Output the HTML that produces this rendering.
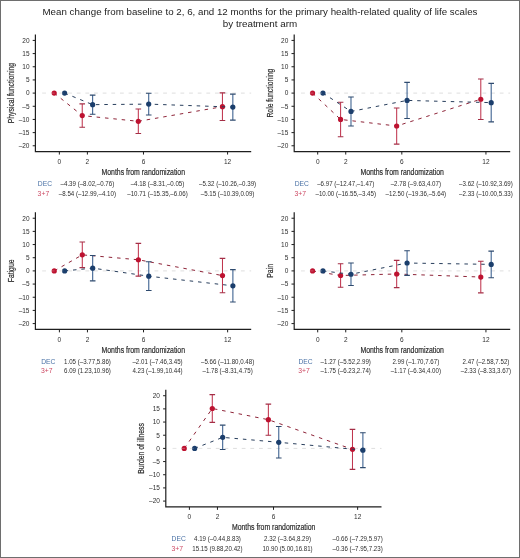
<!DOCTYPE html>
<html><head><meta charset="utf-8"><style>
html,body{margin:0;padding:0;background:#fff;}
svg{display:block;font-family:"Liberation Sans",sans-serif;will-change:transform;}
</style></head><body>
<svg width="520" height="558" viewBox="0 0 520 558">
<rect x="0" y="0" width="520" height="558" fill="#fff"/>
<rect x="0.5" y="0.5" width="519" height="557" fill="none" stroke="#6e6e6e" stroke-width="1"/>
<text x="260" y="15.2" text-anchor="middle" font-size="9.3" fill="#222" textLength="435" lengthAdjust="spacingAndGlyphs">Mean change from baseline to 2, 6, and 12 months for the primary health-related quality of life scales</text>
<text x="260" y="26.7" text-anchor="middle" font-size="9.3" fill="#222" textLength="74.4" lengthAdjust="spacingAndGlyphs">by treatment arm</text>
<g><line x1="42.20" y1="93.10" x2="251.20" y2="93.10" stroke="#dedede" stroke-width="1" stroke-dasharray="3.8 4.84"/>
<path d="M35.40 34.50 V151.55 H251.20" fill="none" stroke="#1e1e1e" stroke-width="1.2"/>
<line x1="32.70" y1="40.42" x2="35.40" y2="40.42" stroke="#1e1e1e" stroke-width="1"/>
<text x="29.50" y="42.72" text-anchor="end" font-size="6.50" fill="#2e2e2e">20</text>
<line x1="32.70" y1="53.59" x2="35.40" y2="53.59" stroke="#1e1e1e" stroke-width="1"/>
<text x="29.50" y="55.89" text-anchor="end" font-size="6.50" fill="#2e2e2e">15</text>
<line x1="32.70" y1="66.76" x2="35.40" y2="66.76" stroke="#1e1e1e" stroke-width="1"/>
<text x="29.50" y="69.06" text-anchor="end" font-size="6.50" fill="#2e2e2e">10</text>
<line x1="32.70" y1="79.93" x2="35.40" y2="79.93" stroke="#1e1e1e" stroke-width="1"/>
<text x="29.50" y="82.23" text-anchor="end" font-size="6.50" fill="#2e2e2e">5</text>
<line x1="32.70" y1="93.10" x2="35.40" y2="93.10" stroke="#1e1e1e" stroke-width="1"/>
<text x="29.50" y="95.40" text-anchor="end" font-size="6.50" fill="#2e2e2e">0</text>
<line x1="32.70" y1="106.27" x2="35.40" y2="106.27" stroke="#1e1e1e" stroke-width="1"/>
<text x="29.50" y="108.57" text-anchor="end" font-size="6.50" fill="#2e2e2e">–5</text>
<line x1="32.70" y1="119.44" x2="35.40" y2="119.44" stroke="#1e1e1e" stroke-width="1"/>
<text x="29.50" y="121.74" text-anchor="end" font-size="6.50" fill="#2e2e2e">–10</text>
<line x1="32.70" y1="132.61" x2="35.40" y2="132.61" stroke="#1e1e1e" stroke-width="1"/>
<text x="29.50" y="134.91" text-anchor="end" font-size="6.50" fill="#2e2e2e">–15</text>
<line x1="32.70" y1="145.78" x2="35.40" y2="145.78" stroke="#1e1e1e" stroke-width="1"/>
<text x="29.50" y="148.08" text-anchor="end" font-size="6.50" fill="#2e2e2e">–20</text>
<line x1="59.35" y1="151.55" x2="59.35" y2="154.55" stroke="#1e1e1e" stroke-width="1"/>
<text x="59.35" y="163.95" text-anchor="middle" font-size="6.50" fill="#2e2e2e">0</text>
<line x1="87.39" y1="151.55" x2="87.39" y2="154.55" stroke="#1e1e1e" stroke-width="1"/>
<text x="87.39" y="163.95" text-anchor="middle" font-size="6.50" fill="#2e2e2e">2</text>
<line x1="143.47" y1="151.55" x2="143.47" y2="154.55" stroke="#1e1e1e" stroke-width="1"/>
<text x="143.47" y="163.95" text-anchor="middle" font-size="6.50" fill="#2e2e2e">6</text>
<line x1="227.59" y1="151.55" x2="227.59" y2="154.55" stroke="#1e1e1e" stroke-width="1"/>
<text x="227.59" y="163.95" text-anchor="middle" font-size="6.50" fill="#2e2e2e">12</text>
<text class="b" x="143.30" y="175.05" text-anchor="middle" font-size="8.40" fill="#2e2e2e" stroke="#2e2e2e" stroke-width="0.20" textLength="83.5" lengthAdjust="spacingAndGlyphs">Months from randomization</text>
<text class="b" transform="translate(13.90 93.10) rotate(-90)" x="0" y="0" text-anchor="middle" font-size="8.40" fill="#2e2e2e" stroke="#2e2e2e" stroke-width="0.20" textLength="60.5" lengthAdjust="spacingAndGlyphs">Physical functioning</text>
<path d="M54.20 93.10 L82.24 115.59 L138.32 121.31 L222.44 106.67" fill="none" stroke="#8e2438" stroke-width="1.0" stroke-dasharray="3.5 4.9"/>
<path d="M82.24 127.32 V103.90" fill="none" stroke="#c0364f" stroke-width="1.05"/>
<path d="M79.44 127.32 H85.04 M79.44 103.90 H85.04" fill="none" stroke="#a42e46" stroke-width="1.1"/>
<path d="M138.32 133.53 V109.06" fill="none" stroke="#c0364f" stroke-width="1.05"/>
<path d="M135.52 133.53 H141.12 M135.52 109.06 H141.12" fill="none" stroke="#a42e46" stroke-width="1.1"/>
<path d="M222.44 120.47 V92.86" fill="none" stroke="#c0364f" stroke-width="1.05"/>
<path d="M219.64 120.47 H225.24 M219.64 92.86 H225.24" fill="none" stroke="#a42e46" stroke-width="1.1"/>
<circle cx="54.20" cy="93.10" r="2.6" fill="#bd1230"/>
<circle cx="82.24" cy="115.59" r="2.6" fill="#bd1230"/>
<circle cx="138.32" cy="121.31" r="2.6" fill="#bd1230"/>
<circle cx="222.44" cy="106.67" r="2.6" fill="#bd1230"/>
<path d="M64.60 93.10 L92.64 104.66 L148.72 104.11 L232.84 107.11" fill="none" stroke="#283e5c" stroke-width="1.0" stroke-dasharray="3.5 4.9"/>
<path d="M92.64 114.22 V95.10" fill="none" stroke="#365c8c" stroke-width="1.05"/>
<path d="M89.84 114.22 H95.44 M89.84 95.10 H95.44" fill="none" stroke="#2e4a6e" stroke-width="1.1"/>
<path d="M148.72 114.99 V93.23" fill="none" stroke="#365c8c" stroke-width="1.05"/>
<path d="M145.92 114.99 H151.52 M145.92 93.23 H151.52" fill="none" stroke="#2e4a6e" stroke-width="1.1"/>
<path d="M232.84 120.12 V94.13" fill="none" stroke="#365c8c" stroke-width="1.05"/>
<path d="M230.04 120.12 H235.64 M230.04 94.13 H235.64" fill="none" stroke="#2e4a6e" stroke-width="1.1"/>
<circle cx="64.60" cy="93.10" r="2.6" fill="#1b3e6c"/>
<circle cx="92.64" cy="104.66" r="2.6" fill="#1b3e6c"/>
<circle cx="148.72" cy="104.11" r="2.6" fill="#1b3e6c"/>
<circle cx="232.84" cy="107.11" r="2.6" fill="#1b3e6c"/>
<line x1="42.20" y1="93.10" x2="73.37" y2="93.10" stroke="#ffffff" stroke-opacity="0.25" stroke-width="1" stroke-dasharray="3.8 4.84"/>
<text x="37.80" y="185.85" font-size="6.50" fill="#4a72a6" textLength="14.2" lengthAdjust="spacingAndGlyphs">DEC</text>
<text x="37.60" y="195.65" font-size="6.50" fill="#cc4862" textLength="11.6" lengthAdjust="spacingAndGlyphs">3+7</text>
<text x="87.39" y="185.85" text-anchor="middle" font-size="6.50" fill="#2e2e2e" textLength="53.68" lengthAdjust="spacingAndGlyphs">–4.39 (–8.02,–0.76)</text>
<text x="157.49" y="185.85" text-anchor="middle" font-size="6.50" fill="#2e2e2e" textLength="53.68" lengthAdjust="spacingAndGlyphs">–4.18 (–8.31,–0.05)</text>
<text x="227.59" y="185.85" text-anchor="middle" font-size="6.50" fill="#2e2e2e" textLength="57.10" lengthAdjust="spacingAndGlyphs">–5.32 (–10.26,–0.39)</text>
<text x="87.39" y="195.65" text-anchor="middle" font-size="6.50" fill="#2e2e2e" textLength="57.10" lengthAdjust="spacingAndGlyphs">–8.54 (–12.99,–4.10)</text>
<text x="157.49" y="195.65" text-anchor="middle" font-size="6.50" fill="#2e2e2e" textLength="60.52" lengthAdjust="spacingAndGlyphs">–10.71 (–15.35,–6.06)</text>
<text x="227.59" y="195.65" text-anchor="middle" font-size="6.50" fill="#2e2e2e" textLength="53.68" lengthAdjust="spacingAndGlyphs">–5.15 (–10.39,0.09)</text></g>
<g><line x1="301.00" y1="93.10" x2="510.20" y2="93.10" stroke="#dedede" stroke-width="1" stroke-dasharray="3.8 4.84"/>
<path d="M294.20 34.50 V151.55 H510.20" fill="none" stroke="#1e1e1e" stroke-width="1.2"/>
<line x1="291.50" y1="40.42" x2="294.20" y2="40.42" stroke="#1e1e1e" stroke-width="1"/>
<text x="288.30" y="42.72" text-anchor="end" font-size="6.50" fill="#2e2e2e">20</text>
<line x1="291.50" y1="53.59" x2="294.20" y2="53.59" stroke="#1e1e1e" stroke-width="1"/>
<text x="288.30" y="55.89" text-anchor="end" font-size="6.50" fill="#2e2e2e">15</text>
<line x1="291.50" y1="66.76" x2="294.20" y2="66.76" stroke="#1e1e1e" stroke-width="1"/>
<text x="288.30" y="69.06" text-anchor="end" font-size="6.50" fill="#2e2e2e">10</text>
<line x1="291.50" y1="79.93" x2="294.20" y2="79.93" stroke="#1e1e1e" stroke-width="1"/>
<text x="288.30" y="82.23" text-anchor="end" font-size="6.50" fill="#2e2e2e">5</text>
<line x1="291.50" y1="93.10" x2="294.20" y2="93.10" stroke="#1e1e1e" stroke-width="1"/>
<text x="288.30" y="95.40" text-anchor="end" font-size="6.50" fill="#2e2e2e">0</text>
<line x1="291.50" y1="106.27" x2="294.20" y2="106.27" stroke="#1e1e1e" stroke-width="1"/>
<text x="288.30" y="108.57" text-anchor="end" font-size="6.50" fill="#2e2e2e">–5</text>
<line x1="291.50" y1="119.44" x2="294.20" y2="119.44" stroke="#1e1e1e" stroke-width="1"/>
<text x="288.30" y="121.74" text-anchor="end" font-size="6.50" fill="#2e2e2e">–10</text>
<line x1="291.50" y1="132.61" x2="294.20" y2="132.61" stroke="#1e1e1e" stroke-width="1"/>
<text x="288.30" y="134.91" text-anchor="end" font-size="6.50" fill="#2e2e2e">–15</text>
<line x1="291.50" y1="145.78" x2="294.20" y2="145.78" stroke="#1e1e1e" stroke-width="1"/>
<text x="288.30" y="148.08" text-anchor="end" font-size="6.50" fill="#2e2e2e">–20</text>
<line x1="317.70" y1="151.55" x2="317.70" y2="154.55" stroke="#1e1e1e" stroke-width="1"/>
<text x="317.70" y="163.95" text-anchor="middle" font-size="6.50" fill="#2e2e2e">0</text>
<line x1="345.74" y1="151.55" x2="345.74" y2="154.55" stroke="#1e1e1e" stroke-width="1"/>
<text x="345.74" y="163.95" text-anchor="middle" font-size="6.50" fill="#2e2e2e">2</text>
<line x1="401.82" y1="151.55" x2="401.82" y2="154.55" stroke="#1e1e1e" stroke-width="1"/>
<text x="401.82" y="163.95" text-anchor="middle" font-size="6.50" fill="#2e2e2e">6</text>
<line x1="485.94" y1="151.55" x2="485.94" y2="154.55" stroke="#1e1e1e" stroke-width="1"/>
<text x="485.94" y="163.95" text-anchor="middle" font-size="6.50" fill="#2e2e2e">12</text>
<text class="b" x="402.20" y="175.05" text-anchor="middle" font-size="8.40" fill="#2e2e2e" stroke="#2e2e2e" stroke-width="0.20" textLength="83.5" lengthAdjust="spacingAndGlyphs">Months from randomization</text>
<text class="b" transform="translate(272.70 93.10) rotate(-90)" x="0" y="0" text-anchor="middle" font-size="8.40" fill="#2e2e2e" stroke="#2e2e2e" stroke-width="0.20" textLength="49.0" lengthAdjust="spacingAndGlyphs">Role functioning</text>
<path d="M312.55 93.10 L340.59 119.44 L396.67 126.02 L480.79 99.24" fill="none" stroke="#8e2438" stroke-width="1.0" stroke-dasharray="3.5 4.9"/>
<path d="M340.59 136.69 V102.19" fill="none" stroke="#c0364f" stroke-width="1.05"/>
<path d="M337.79 136.69 H343.39 M337.79 102.19 H343.39" fill="none" stroke="#a42e46" stroke-width="1.1"/>
<path d="M396.67 144.09 V107.96" fill="none" stroke="#c0364f" stroke-width="1.05"/>
<path d="M393.87 144.09 H399.47 M393.87 107.96 H399.47" fill="none" stroke="#a42e46" stroke-width="1.1"/>
<path d="M480.79 119.44 V79.06" fill="none" stroke="#c0364f" stroke-width="1.05"/>
<path d="M477.99 119.44 H483.59 M477.99 79.06 H483.59" fill="none" stroke="#a42e46" stroke-width="1.1"/>
<circle cx="312.55" cy="93.10" r="2.6" fill="#bd1230"/>
<circle cx="340.59" cy="119.44" r="2.6" fill="#bd1230"/>
<circle cx="396.67" cy="126.02" r="2.6" fill="#bd1230"/>
<circle cx="480.79" cy="99.24" r="2.6" fill="#bd1230"/>
<path d="M322.95 93.10 L350.99 111.46 L407.07 100.42 L491.19 102.64" fill="none" stroke="#283e5c" stroke-width="1.0" stroke-dasharray="3.5 4.9"/>
<path d="M350.99 125.95 V96.97" fill="none" stroke="#365c8c" stroke-width="1.05"/>
<path d="M348.19 125.95 H353.79 M348.19 96.97 H353.79" fill="none" stroke="#2e4a6e" stroke-width="1.1"/>
<path d="M407.07 118.47 V82.38" fill="none" stroke="#365c8c" stroke-width="1.05"/>
<path d="M404.27 118.47 H409.87 M404.27 82.38 H409.87" fill="none" stroke="#2e4a6e" stroke-width="1.1"/>
<path d="M491.19 121.86 V83.38" fill="none" stroke="#365c8c" stroke-width="1.05"/>
<path d="M488.39 121.86 H493.99 M488.39 83.38 H493.99" fill="none" stroke="#2e4a6e" stroke-width="1.1"/>
<circle cx="322.95" cy="93.10" r="2.6" fill="#1b3e6c"/>
<circle cx="350.99" cy="111.46" r="2.6" fill="#1b3e6c"/>
<circle cx="407.07" cy="100.42" r="2.6" fill="#1b3e6c"/>
<circle cx="491.19" cy="102.64" r="2.6" fill="#1b3e6c"/>
<line x1="301.00" y1="93.10" x2="331.72" y2="93.10" stroke="#ffffff" stroke-opacity="0.25" stroke-width="1" stroke-dasharray="3.8 4.84"/>
<text x="294.70" y="185.85" font-size="6.50" fill="#4a72a6" textLength="14.2" lengthAdjust="spacingAndGlyphs">DEC</text>
<text x="294.50" y="195.65" font-size="6.50" fill="#cc4862" textLength="11.6" lengthAdjust="spacingAndGlyphs">3+7</text>
<text x="345.74" y="185.85" text-anchor="middle" font-size="6.50" fill="#2e2e2e" textLength="57.10" lengthAdjust="spacingAndGlyphs">–6.97 (–12.47,–1.47)</text>
<text x="415.84" y="185.85" text-anchor="middle" font-size="6.50" fill="#2e2e2e" textLength="50.26" lengthAdjust="spacingAndGlyphs">–2.78 (–9.63,4.07)</text>
<text x="485.94" y="185.85" text-anchor="middle" font-size="6.50" fill="#2e2e2e" textLength="53.68" lengthAdjust="spacingAndGlyphs">–3.62 (–10.92,3.69)</text>
<text x="345.74" y="195.65" text-anchor="middle" font-size="6.50" fill="#2e2e2e" textLength="60.52" lengthAdjust="spacingAndGlyphs">–10.00 (–16.55,–3.45)</text>
<text x="415.84" y="195.65" text-anchor="middle" font-size="6.50" fill="#2e2e2e" textLength="60.52" lengthAdjust="spacingAndGlyphs">–12.50 (–19.36,–5.64)</text>
<text x="485.94" y="195.65" text-anchor="middle" font-size="6.50" fill="#2e2e2e" textLength="53.68" lengthAdjust="spacingAndGlyphs">–2.33 (–10.00,5.33)</text></g>
<g><line x1="42.20" y1="270.90" x2="251.20" y2="270.90" stroke="#dedede" stroke-width="1" stroke-dasharray="3.8 4.84"/>
<path d="M35.40 212.30 V329.35 H251.20" fill="none" stroke="#1e1e1e" stroke-width="1.2"/>
<line x1="32.70" y1="218.22" x2="35.40" y2="218.22" stroke="#1e1e1e" stroke-width="1"/>
<text x="29.50" y="220.52" text-anchor="end" font-size="6.50" fill="#2e2e2e">20</text>
<line x1="32.70" y1="231.39" x2="35.40" y2="231.39" stroke="#1e1e1e" stroke-width="1"/>
<text x="29.50" y="233.69" text-anchor="end" font-size="6.50" fill="#2e2e2e">15</text>
<line x1="32.70" y1="244.56" x2="35.40" y2="244.56" stroke="#1e1e1e" stroke-width="1"/>
<text x="29.50" y="246.86" text-anchor="end" font-size="6.50" fill="#2e2e2e">10</text>
<line x1="32.70" y1="257.73" x2="35.40" y2="257.73" stroke="#1e1e1e" stroke-width="1"/>
<text x="29.50" y="260.03" text-anchor="end" font-size="6.50" fill="#2e2e2e">5</text>
<line x1="32.70" y1="270.90" x2="35.40" y2="270.90" stroke="#1e1e1e" stroke-width="1"/>
<text x="29.50" y="273.20" text-anchor="end" font-size="6.50" fill="#2e2e2e">0</text>
<line x1="32.70" y1="284.07" x2="35.40" y2="284.07" stroke="#1e1e1e" stroke-width="1"/>
<text x="29.50" y="286.37" text-anchor="end" font-size="6.50" fill="#2e2e2e">–5</text>
<line x1="32.70" y1="297.24" x2="35.40" y2="297.24" stroke="#1e1e1e" stroke-width="1"/>
<text x="29.50" y="299.54" text-anchor="end" font-size="6.50" fill="#2e2e2e">–10</text>
<line x1="32.70" y1="310.41" x2="35.40" y2="310.41" stroke="#1e1e1e" stroke-width="1"/>
<text x="29.50" y="312.71" text-anchor="end" font-size="6.50" fill="#2e2e2e">–15</text>
<line x1="32.70" y1="323.58" x2="35.40" y2="323.58" stroke="#1e1e1e" stroke-width="1"/>
<text x="29.50" y="325.88" text-anchor="end" font-size="6.50" fill="#2e2e2e">–20</text>
<line x1="59.40" y1="329.35" x2="59.40" y2="332.35" stroke="#1e1e1e" stroke-width="1"/>
<text x="59.40" y="341.75" text-anchor="middle" font-size="6.50" fill="#2e2e2e">0</text>
<line x1="87.44" y1="329.35" x2="87.44" y2="332.35" stroke="#1e1e1e" stroke-width="1"/>
<text x="87.44" y="341.75" text-anchor="middle" font-size="6.50" fill="#2e2e2e">2</text>
<line x1="143.52" y1="329.35" x2="143.52" y2="332.35" stroke="#1e1e1e" stroke-width="1"/>
<text x="143.52" y="341.75" text-anchor="middle" font-size="6.50" fill="#2e2e2e">6</text>
<line x1="227.64" y1="329.35" x2="227.64" y2="332.35" stroke="#1e1e1e" stroke-width="1"/>
<text x="227.64" y="341.75" text-anchor="middle" font-size="6.50" fill="#2e2e2e">12</text>
<text class="b" x="143.30" y="352.85" text-anchor="middle" font-size="8.40" fill="#2e2e2e" stroke="#2e2e2e" stroke-width="0.20" textLength="83.5" lengthAdjust="spacingAndGlyphs">Months from randomization</text>
<text class="b" transform="translate(13.90 270.90) rotate(-90)" x="0" y="0" text-anchor="middle" font-size="8.40" fill="#2e2e2e" stroke="#2e2e2e" stroke-width="0.20" textLength="22.8" lengthAdjust="spacingAndGlyphs">Fatigue</text>
<path d="M54.25 270.90 L82.29 254.86 L138.37 259.76 L222.49 275.59" fill="none" stroke="#8e2438" stroke-width="1.0" stroke-dasharray="3.5 4.9"/>
<path d="M82.29 267.66 V242.03" fill="none" stroke="#c0364f" stroke-width="1.05"/>
<path d="M79.49 267.66 H85.09 M79.49 242.03 H85.09" fill="none" stroke="#a42e46" stroke-width="1.1"/>
<path d="M138.37 276.14 V243.40" fill="none" stroke="#c0364f" stroke-width="1.05"/>
<path d="M135.57 276.14 H141.17 M135.57 243.40 H141.17" fill="none" stroke="#a42e46" stroke-width="1.1"/>
<path d="M222.49 292.79 V258.39" fill="none" stroke="#c0364f" stroke-width="1.05"/>
<path d="M219.69 292.79 H225.29 M219.69 258.39 H225.29" fill="none" stroke="#a42e46" stroke-width="1.1"/>
<circle cx="54.25" cy="270.90" r="2.6" fill="#bd1230"/>
<circle cx="82.29" cy="254.86" r="2.6" fill="#bd1230"/>
<circle cx="138.37" cy="259.76" r="2.6" fill="#bd1230"/>
<circle cx="222.49" cy="275.59" r="2.6" fill="#bd1230"/>
<path d="M64.65 270.90 L92.69 268.13 L148.77 276.19 L232.89 285.81" fill="none" stroke="#283e5c" stroke-width="1.0" stroke-dasharray="3.5 4.9"/>
<path d="M92.69 280.83 V255.46" fill="none" stroke="#365c8c" stroke-width="1.05"/>
<path d="M89.89 280.83 H95.49 M89.89 255.46 H95.49" fill="none" stroke="#2e4a6e" stroke-width="1.1"/>
<path d="M148.77 290.55 V261.81" fill="none" stroke="#365c8c" stroke-width="1.05"/>
<path d="M145.97 290.55 H151.57 M145.97 261.81 H151.57" fill="none" stroke="#2e4a6e" stroke-width="1.1"/>
<path d="M232.89 301.98 V269.64" fill="none" stroke="#365c8c" stroke-width="1.05"/>
<path d="M230.09 301.98 H235.69 M230.09 269.64 H235.69" fill="none" stroke="#2e4a6e" stroke-width="1.1"/>
<circle cx="64.65" cy="270.90" r="2.6" fill="#1b3e6c"/>
<circle cx="92.69" cy="268.13" r="2.6" fill="#1b3e6c"/>
<circle cx="148.77" cy="276.19" r="2.6" fill="#1b3e6c"/>
<circle cx="232.89" cy="285.81" r="2.6" fill="#1b3e6c"/>
<line x1="42.20" y1="270.90" x2="73.42" y2="270.90" stroke="#ffffff" stroke-opacity="0.25" stroke-width="1" stroke-dasharray="3.8 4.84"/>
<text x="41.20" y="363.65" font-size="6.50" fill="#4a72a6" textLength="14.2" lengthAdjust="spacingAndGlyphs">DEC</text>
<text x="41.00" y="373.45" font-size="6.50" fill="#cc4862" textLength="11.6" lengthAdjust="spacingAndGlyphs">3+7</text>
<text x="87.44" y="363.65" text-anchor="middle" font-size="6.50" fill="#2e2e2e" textLength="46.84" lengthAdjust="spacingAndGlyphs">1.05 (–3.77,5.86)</text>
<text x="157.54" y="363.65" text-anchor="middle" font-size="6.50" fill="#2e2e2e" textLength="50.26" lengthAdjust="spacingAndGlyphs">–2.01 (–7.46,3.45)</text>
<text x="227.64" y="363.65" text-anchor="middle" font-size="6.50" fill="#2e2e2e" textLength="53.22" lengthAdjust="spacingAndGlyphs">–5.66 (–11.80,0.48)</text>
<text x="87.44" y="373.45" text-anchor="middle" font-size="6.50" fill="#2e2e2e" textLength="46.84" lengthAdjust="spacingAndGlyphs">6.09 (1.23,10.96)</text>
<text x="157.54" y="373.45" text-anchor="middle" font-size="6.50" fill="#2e2e2e" textLength="50.26" lengthAdjust="spacingAndGlyphs">4.23 (–1.99,10.44)</text>
<text x="227.64" y="373.45" text-anchor="middle" font-size="6.50" fill="#2e2e2e" textLength="50.26" lengthAdjust="spacingAndGlyphs">–1.78 (–8.31,4.75)</text></g>
<g><line x1="301.00" y1="270.90" x2="510.20" y2="270.90" stroke="#dedede" stroke-width="1" stroke-dasharray="3.8 4.84"/>
<path d="M294.20 212.30 V329.35 H510.20" fill="none" stroke="#1e1e1e" stroke-width="1.2"/>
<line x1="291.50" y1="218.22" x2="294.20" y2="218.22" stroke="#1e1e1e" stroke-width="1"/>
<text x="288.30" y="220.52" text-anchor="end" font-size="6.50" fill="#2e2e2e">20</text>
<line x1="291.50" y1="231.39" x2="294.20" y2="231.39" stroke="#1e1e1e" stroke-width="1"/>
<text x="288.30" y="233.69" text-anchor="end" font-size="6.50" fill="#2e2e2e">15</text>
<line x1="291.50" y1="244.56" x2="294.20" y2="244.56" stroke="#1e1e1e" stroke-width="1"/>
<text x="288.30" y="246.86" text-anchor="end" font-size="6.50" fill="#2e2e2e">10</text>
<line x1="291.50" y1="257.73" x2="294.20" y2="257.73" stroke="#1e1e1e" stroke-width="1"/>
<text x="288.30" y="260.03" text-anchor="end" font-size="6.50" fill="#2e2e2e">5</text>
<line x1="291.50" y1="270.90" x2="294.20" y2="270.90" stroke="#1e1e1e" stroke-width="1"/>
<text x="288.30" y="273.20" text-anchor="end" font-size="6.50" fill="#2e2e2e">0</text>
<line x1="291.50" y1="284.07" x2="294.20" y2="284.07" stroke="#1e1e1e" stroke-width="1"/>
<text x="288.30" y="286.37" text-anchor="end" font-size="6.50" fill="#2e2e2e">–5</text>
<line x1="291.50" y1="297.24" x2="294.20" y2="297.24" stroke="#1e1e1e" stroke-width="1"/>
<text x="288.30" y="299.54" text-anchor="end" font-size="6.50" fill="#2e2e2e">–10</text>
<line x1="291.50" y1="310.41" x2="294.20" y2="310.41" stroke="#1e1e1e" stroke-width="1"/>
<text x="288.30" y="312.71" text-anchor="end" font-size="6.50" fill="#2e2e2e">–15</text>
<line x1="291.50" y1="323.58" x2="294.20" y2="323.58" stroke="#1e1e1e" stroke-width="1"/>
<text x="288.30" y="325.88" text-anchor="end" font-size="6.50" fill="#2e2e2e">–20</text>
<line x1="317.70" y1="329.35" x2="317.70" y2="332.35" stroke="#1e1e1e" stroke-width="1"/>
<text x="317.70" y="341.75" text-anchor="middle" font-size="6.50" fill="#2e2e2e">0</text>
<line x1="345.74" y1="329.35" x2="345.74" y2="332.35" stroke="#1e1e1e" stroke-width="1"/>
<text x="345.74" y="341.75" text-anchor="middle" font-size="6.50" fill="#2e2e2e">2</text>
<line x1="401.82" y1="329.35" x2="401.82" y2="332.35" stroke="#1e1e1e" stroke-width="1"/>
<text x="401.82" y="341.75" text-anchor="middle" font-size="6.50" fill="#2e2e2e">6</text>
<line x1="485.94" y1="329.35" x2="485.94" y2="332.35" stroke="#1e1e1e" stroke-width="1"/>
<text x="485.94" y="341.75" text-anchor="middle" font-size="6.50" fill="#2e2e2e">12</text>
<text class="b" x="402.20" y="352.85" text-anchor="middle" font-size="8.40" fill="#2e2e2e" stroke="#2e2e2e" stroke-width="0.20" textLength="83.5" lengthAdjust="spacingAndGlyphs">Months from randomization</text>
<text class="b" transform="translate(272.70 270.90) rotate(-90)" x="0" y="0" text-anchor="middle" font-size="8.40" fill="#2e2e2e" stroke="#2e2e2e" stroke-width="0.20" textLength="13.7" lengthAdjust="spacingAndGlyphs">Pain</text>
<path d="M312.55 270.90 L340.59 275.51 L396.67 273.98 L480.79 277.04" fill="none" stroke="#8e2438" stroke-width="1.0" stroke-dasharray="3.5 4.9"/>
<path d="M340.59 287.31 V263.68" fill="none" stroke="#c0364f" stroke-width="1.05"/>
<path d="M337.79 287.31 H343.39 M337.79 263.68 H343.39" fill="none" stroke="#a42e46" stroke-width="1.1"/>
<path d="M396.67 287.60 V260.36" fill="none" stroke="#c0364f" stroke-width="1.05"/>
<path d="M393.87 287.60 H399.47 M393.87 260.36 H399.47" fill="none" stroke="#a42e46" stroke-width="1.1"/>
<path d="M480.79 292.84 V261.23" fill="none" stroke="#c0364f" stroke-width="1.05"/>
<path d="M477.99 292.84 H483.59 M477.99 261.23 H483.59" fill="none" stroke="#a42e46" stroke-width="1.1"/>
<circle cx="312.55" cy="270.90" r="2.6" fill="#bd1230"/>
<circle cx="340.59" cy="275.51" r="2.6" fill="#bd1230"/>
<circle cx="396.67" cy="273.98" r="2.6" fill="#bd1230"/>
<circle cx="480.79" cy="277.04" r="2.6" fill="#bd1230"/>
<path d="M322.95 270.90 L350.99 274.25 L407.07 263.02 L491.19 264.39" fill="none" stroke="#283e5c" stroke-width="1.0" stroke-dasharray="3.5 4.9"/>
<path d="M350.99 285.44 V263.02" fill="none" stroke="#365c8c" stroke-width="1.05"/>
<path d="M348.19 285.44 H353.79 M348.19 263.02 H353.79" fill="none" stroke="#2e4a6e" stroke-width="1.1"/>
<path d="M407.07 275.38 V250.70" fill="none" stroke="#365c8c" stroke-width="1.05"/>
<path d="M404.27 275.38 H409.87 M404.27 250.70 H409.87" fill="none" stroke="#2e4a6e" stroke-width="1.1"/>
<path d="M491.19 277.70 V251.09" fill="none" stroke="#365c8c" stroke-width="1.05"/>
<path d="M488.39 277.70 H493.99 M488.39 251.09 H493.99" fill="none" stroke="#2e4a6e" stroke-width="1.1"/>
<circle cx="322.95" cy="270.90" r="2.6" fill="#1b3e6c"/>
<circle cx="350.99" cy="274.25" r="2.6" fill="#1b3e6c"/>
<circle cx="407.07" cy="263.02" r="2.6" fill="#1b3e6c"/>
<circle cx="491.19" cy="264.39" r="2.6" fill="#1b3e6c"/>
<line x1="301.00" y1="270.90" x2="331.72" y2="270.90" stroke="#ffffff" stroke-opacity="0.25" stroke-width="1" stroke-dasharray="3.8 4.84"/>
<text x="298.50" y="363.65" font-size="6.50" fill="#4a72a6" textLength="14.2" lengthAdjust="spacingAndGlyphs">DEC</text>
<text x="298.30" y="373.45" font-size="6.50" fill="#cc4862" textLength="11.6" lengthAdjust="spacingAndGlyphs">3+7</text>
<text x="345.74" y="363.65" text-anchor="middle" font-size="6.50" fill="#2e2e2e" textLength="50.26" lengthAdjust="spacingAndGlyphs">–1.27 (–5.52,2.99)</text>
<text x="415.84" y="363.65" text-anchor="middle" font-size="6.50" fill="#2e2e2e" textLength="46.84" lengthAdjust="spacingAndGlyphs">2.99 (–1.70,7.67)</text>
<text x="485.94" y="363.65" text-anchor="middle" font-size="6.50" fill="#2e2e2e" textLength="46.84" lengthAdjust="spacingAndGlyphs">2.47 (–2.58,7.52)</text>
<text x="345.74" y="373.45" text-anchor="middle" font-size="6.50" fill="#2e2e2e" textLength="50.26" lengthAdjust="spacingAndGlyphs">–1.75 (–6.23,2.74)</text>
<text x="415.84" y="373.45" text-anchor="middle" font-size="6.50" fill="#2e2e2e" textLength="50.26" lengthAdjust="spacingAndGlyphs">–1.17 (–6.34,4.00)</text>
<text x="485.94" y="373.45" text-anchor="middle" font-size="6.50" fill="#2e2e2e" textLength="50.26" lengthAdjust="spacingAndGlyphs">–2.33 (–8.33,3.67)</text></g>
<g><line x1="172.60" y1="448.40" x2="381.50" y2="448.40" stroke="#dedede" stroke-width="1" stroke-dasharray="3.8 4.84"/>
<path d="M165.80 389.80 V506.85 H381.50" fill="none" stroke="#1e1e1e" stroke-width="1.2"/>
<line x1="163.10" y1="395.72" x2="165.80" y2="395.72" stroke="#1e1e1e" stroke-width="1"/>
<text x="159.90" y="398.02" text-anchor="end" font-size="6.50" fill="#2e2e2e">20</text>
<line x1="163.10" y1="408.89" x2="165.80" y2="408.89" stroke="#1e1e1e" stroke-width="1"/>
<text x="159.90" y="411.19" text-anchor="end" font-size="6.50" fill="#2e2e2e">15</text>
<line x1="163.10" y1="422.06" x2="165.80" y2="422.06" stroke="#1e1e1e" stroke-width="1"/>
<text x="159.90" y="424.36" text-anchor="end" font-size="6.50" fill="#2e2e2e">10</text>
<line x1="163.10" y1="435.23" x2="165.80" y2="435.23" stroke="#1e1e1e" stroke-width="1"/>
<text x="159.90" y="437.53" text-anchor="end" font-size="6.50" fill="#2e2e2e">5</text>
<line x1="163.10" y1="448.40" x2="165.80" y2="448.40" stroke="#1e1e1e" stroke-width="1"/>
<text x="159.90" y="450.70" text-anchor="end" font-size="6.50" fill="#2e2e2e">0</text>
<line x1="163.10" y1="461.57" x2="165.80" y2="461.57" stroke="#1e1e1e" stroke-width="1"/>
<text x="159.90" y="463.87" text-anchor="end" font-size="6.50" fill="#2e2e2e">–5</text>
<line x1="163.10" y1="474.74" x2="165.80" y2="474.74" stroke="#1e1e1e" stroke-width="1"/>
<text x="159.90" y="477.04" text-anchor="end" font-size="6.50" fill="#2e2e2e">–10</text>
<line x1="163.10" y1="487.91" x2="165.80" y2="487.91" stroke="#1e1e1e" stroke-width="1"/>
<text x="159.90" y="490.21" text-anchor="end" font-size="6.50" fill="#2e2e2e">–15</text>
<line x1="163.10" y1="501.08" x2="165.80" y2="501.08" stroke="#1e1e1e" stroke-width="1"/>
<text x="159.90" y="503.38" text-anchor="end" font-size="6.50" fill="#2e2e2e">–20</text>
<line x1="189.40" y1="506.85" x2="189.40" y2="509.85" stroke="#1e1e1e" stroke-width="1"/>
<text x="189.40" y="519.25" text-anchor="middle" font-size="6.50" fill="#2e2e2e">0</text>
<line x1="217.44" y1="506.85" x2="217.44" y2="509.85" stroke="#1e1e1e" stroke-width="1"/>
<text x="217.44" y="519.25" text-anchor="middle" font-size="6.50" fill="#2e2e2e">2</text>
<line x1="273.52" y1="506.85" x2="273.52" y2="509.85" stroke="#1e1e1e" stroke-width="1"/>
<text x="273.52" y="519.25" text-anchor="middle" font-size="6.50" fill="#2e2e2e">6</text>
<line x1="357.64" y1="506.85" x2="357.64" y2="509.85" stroke="#1e1e1e" stroke-width="1"/>
<text x="357.64" y="519.25" text-anchor="middle" font-size="6.50" fill="#2e2e2e">12</text>
<text class="b" x="273.65" y="530.35" text-anchor="middle" font-size="8.40" fill="#2e2e2e" stroke="#2e2e2e" stroke-width="0.20" textLength="83.5" lengthAdjust="spacingAndGlyphs">Months from randomization</text>
<text class="b" transform="translate(144.30 448.40) rotate(-90)" x="0" y="0" text-anchor="middle" font-size="8.40" fill="#2e2e2e" stroke="#2e2e2e" stroke-width="0.20" textLength="50.6" lengthAdjust="spacingAndGlyphs">Burden of illness</text>
<path d="M184.25 448.40 L212.29 408.49 L268.37 419.69 L352.49 449.35" fill="none" stroke="#8e2438" stroke-width="1.0" stroke-dasharray="3.5 4.9"/>
<path d="M212.29 422.38 V394.61" fill="none" stroke="#c0364f" stroke-width="1.05"/>
<path d="M209.49 422.38 H215.09 M209.49 394.61 H215.09" fill="none" stroke="#a42e46" stroke-width="1.1"/>
<path d="M268.37 435.23 V404.12" fill="none" stroke="#c0364f" stroke-width="1.05"/>
<path d="M265.57 435.23 H271.17 M265.57 404.12 H271.17" fill="none" stroke="#a42e46" stroke-width="1.1"/>
<path d="M352.49 469.34 V429.36" fill="none" stroke="#c0364f" stroke-width="1.05"/>
<path d="M349.69 469.34 H355.29 M349.69 429.36 H355.29" fill="none" stroke="#a42e46" stroke-width="1.1"/>
<circle cx="184.25" cy="448.40" r="2.6" fill="#bd1230"/>
<circle cx="212.29" cy="408.49" r="2.6" fill="#bd1230"/>
<circle cx="268.37" cy="419.69" r="2.6" fill="#bd1230"/>
<circle cx="352.49" cy="449.35" r="2.6" fill="#bd1230"/>
<path d="M194.65 448.40 L222.69 437.36 L278.77 442.29 L362.89 450.14" fill="none" stroke="#283e5c" stroke-width="1.0" stroke-dasharray="3.5 4.9"/>
<path d="M222.69 449.56 V425.14" fill="none" stroke="#365c8c" stroke-width="1.05"/>
<path d="M219.89 449.56 H225.49 M219.89 425.14 H225.49" fill="none" stroke="#2e4a6e" stroke-width="1.1"/>
<path d="M278.77 457.99 V426.56" fill="none" stroke="#365c8c" stroke-width="1.05"/>
<path d="M275.97 457.99 H281.57 M275.97 426.56 H281.57" fill="none" stroke="#2e4a6e" stroke-width="1.1"/>
<path d="M362.89 467.60 V432.68" fill="none" stroke="#365c8c" stroke-width="1.05"/>
<path d="M360.09 467.60 H365.69 M360.09 432.68 H365.69" fill="none" stroke="#2e4a6e" stroke-width="1.1"/>
<circle cx="194.65" cy="448.40" r="2.6" fill="#1b3e6c"/>
<circle cx="222.69" cy="437.36" r="2.6" fill="#1b3e6c"/>
<circle cx="278.77" cy="442.29" r="2.6" fill="#1b3e6c"/>
<circle cx="362.89" cy="450.14" r="2.6" fill="#1b3e6c"/>
<line x1="172.60" y1="448.40" x2="203.42" y2="448.40" stroke="#ffffff" stroke-opacity="0.25" stroke-width="1" stroke-dasharray="3.8 4.84"/>
<text x="171.60" y="541.15" font-size="6.50" fill="#4a72a6" textLength="14.2" lengthAdjust="spacingAndGlyphs">DEC</text>
<text x="171.40" y="550.95" font-size="6.50" fill="#cc4862" textLength="11.6" lengthAdjust="spacingAndGlyphs">3+7</text>
<text x="217.44" y="541.15" text-anchor="middle" font-size="6.50" fill="#2e2e2e" textLength="46.84" lengthAdjust="spacingAndGlyphs">4.19 (–0.44,8.83)</text>
<text x="287.54" y="541.15" text-anchor="middle" font-size="6.50" fill="#2e2e2e" textLength="46.84" lengthAdjust="spacingAndGlyphs">2.32 (–3.64,8.29)</text>
<text x="357.64" y="541.15" text-anchor="middle" font-size="6.50" fill="#2e2e2e" textLength="50.26" lengthAdjust="spacingAndGlyphs">–0.66 (–7.29,5.97)</text>
<text x="217.44" y="550.95" text-anchor="middle" font-size="6.50" fill="#2e2e2e" textLength="50.26" lengthAdjust="spacingAndGlyphs">15.15 (9.88,20.42)</text>
<text x="287.54" y="550.95" text-anchor="middle" font-size="6.50" fill="#2e2e2e" textLength="50.26" lengthAdjust="spacingAndGlyphs">10.90 (5.00,16.81)</text>
<text x="357.64" y="550.95" text-anchor="middle" font-size="6.50" fill="#2e2e2e" textLength="50.26" lengthAdjust="spacingAndGlyphs">–0.36 (–7.95,7.23)</text></g>
</svg>
</body></html>
